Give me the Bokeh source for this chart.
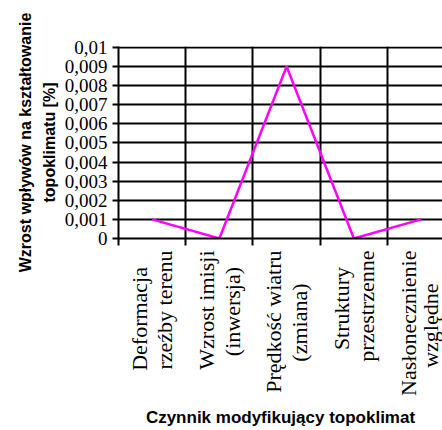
import math
from bokeh.plotting import figure
from bokeh.models import FixedTicker, Range1d, LinearAxis
from bokeh.embed import file_html
from bokeh.resources import INLINE

# two-line category labels (first line, second line)
cat_line1 = ["Deformacja", "Wzrost imisji", "Prędkość wiatru", "Struktury", "Nasłonecznienie"]
cat_line2 = ["rzeźby terenu", "(inwersja)", "(zmiana)", "przestrzenne", "względne"]
values = [0.001, 0.0, 0.009, 0.0, 0.001]
y_ticks = [0.0, 0.001, 0.002, 0.003, 0.004, 0.005, 0.006, 0.007, 0.008, 0.009, 0.01]
y_tick_labels = ["0", "0,001", "0,002", "0,003", "0,004", "0,005", "0,006", "0,007", "0,008", "0,009", "0,01"]
y_title_line1 = "Wzrost wpływów na kształtowanie"
y_title_line2 = "topoklimatu [%]"
x_title = "Czynnik modyfikujący topoklimat"

n = len(cat_line1)
xs = [i + 0.5 for i in range(n)]
bounds = list(range(n + 1))

p = figure(width=442, height=430, output_backend="svg", toolbar_location=None,
           x_range=Range1d(0, 4.818), y_range=Range1d(0, 0.01005),
           min_border_left=118, min_border_right=0, min_border_top=46, min_border_bottom=192)
p.outline_line_color = None
p.background_fill_color = "white"
p.border_fill_color = "white"

p.line(xs, values, line_color="#FF00FF", line_width=2.5)

# grid
p.xgrid.ticker = FixedTicker(ticks=bounds)
p.ygrid.ticker = FixedTicker(ticks=y_ticks)
for g in (p.xgrid, p.ygrid):
    g.grid_line_color = "black"
    g.grid_line_width = 2
    g.grid_line_alpha = 1

# x axis: each category label drawn as two rotated single-line labels side by side,
# shorter line padded so that lines are centred within the block
LINE_OFF = 0.19
label_ticks, label_map = [], {}
for x, a, b in zip(xs, cat_line1, cat_line2):
    la, lb = len(a), len(b)
    pad_a = "\u00a0" * max(0, round((lb - la) * 0.9))
    pad_b = "\u00a0" * max(0, round((la - lb) * 0.9))
    label_ticks += [x - LINE_OFF, x + LINE_OFF]
    label_map[x - LINE_OFF] = a + pad_a
    label_map[x + LINE_OFF] = b + pad_b

xa = p.xaxis[0]
xa.ticker = FixedTicker(ticks=label_ticks, minor_ticks=bounds)
xa.major_label_overrides = label_map
xa.major_label_orientation = math.pi / 2
xa.major_tick_line_color = None
xa.major_tick_out = 7
xa.major_tick_in = 0
xa.minor_tick_line_color = "black"
xa.minor_tick_line_width = 2
xa.minor_tick_out = 7
xa.minor_tick_in = 0
xa.axis_line_color = "black"
xa.axis_line_width = 2
xa.major_label_text_font = "Liberation Serif"
xa.major_label_text_font_size = "22px"
xa.major_label_text_color = "black"
xa.major_label_standoff = 5
xa.axis_label = x_title
xa.axis_label_text_font = "Liberation Sans"
xa.axis_label_text_font_style = "bold"
xa.axis_label_text_font_size = "17px"
xa.axis_label_text_color = "black"
xa.axis_label_standoff = 9

# y axis
ya = p.yaxis[0]
ya.ticker = FixedTicker(ticks=y_ticks)
ya.major_label_overrides = {t: l for t, l in zip(y_ticks, y_tick_labels)}
ya.major_tick_line_color = "black"
ya.major_tick_line_width = 2
ya.major_tick_out = 6
ya.major_tick_in = 0
ya.minor_tick_line_color = None
ya.axis_line_color = "black"
ya.axis_line_width = 2
ya.major_label_text_font = "Liberation Serif"
ya.major_label_text_font_size = "19px"
ya.major_label_text_color = "black"
ya.major_label_standoff = 5
ya.axis_label = y_title_line2
ya.axis_label_text_font = "Liberation Sans"
ya.axis_label_text_font_style = "bold"
ya.axis_label_text_font_size = "16px"
ya.axis_label_text_color = "black"
ya.axis_label_standoff = 4

# outer (title-only) axis carrying the first line of the y title
ya2 = LinearAxis(ticker=FixedTicker(ticks=[]), axis_label=y_title_line1)
ya2.axis_line_color = None
ya2.major_tick_line_color = None
ya2.minor_tick_line_color = None
ya2.major_tick_out = 0
ya2.major_label_text_font_size = "0px"
ya2.major_label_standoff = 0
ya2.axis_label_standoff = 4
ya2.axis_label_text_font = "Liberation Sans"
ya2.axis_label_text_font_style = "bold"
ya2.axis_label_text_font_size = "16px"
ya2.axis_label_text_color = "black"
p.add_layout(ya2, "left")

open("out.html", "w").write(file_html(p, INLINE))
